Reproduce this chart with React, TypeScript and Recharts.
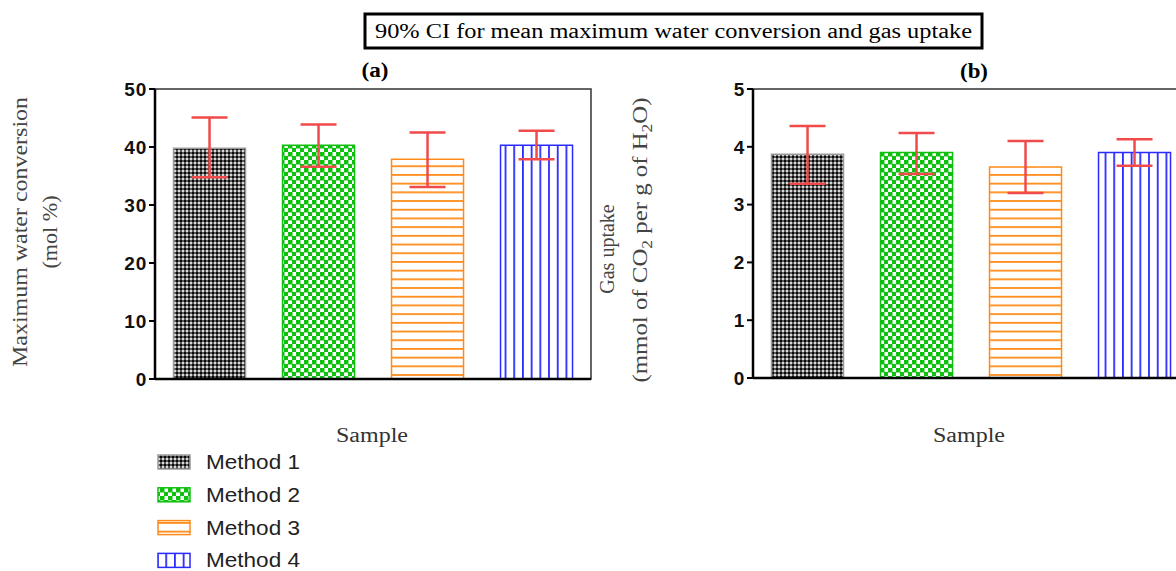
import { Bar, BarChart, Cell, ErrorBar, ReferenceArea, XAxis, YAxis } from "recharts";

const methods = ["Method 1", "Method 2", "Method 3", "Method 4"];

// (a) maximum water conversion, mol %
const conversionMean = [39.8, 40.3, 37.9, 40.3];
const conversionLow = [34.8, 36.6, 33.1, 37.9];
const conversionHigh = [45.1, 43.9, 42.5, 42.8];
const conversionTicks = [0, 10, 20, 30, 40, 50];

// (b) gas uptake, mmol CO2 per g H2O
const uptakeMean = [3.87, 3.9, 3.65, 3.9];
const uptakeLow = [3.36, 3.53, 3.2, 3.67];
const uptakeHigh = [4.36, 4.24, 4.1, 4.13];
const uptakeTicks = [0, 1, 2, 3, 4, 5];

const patternIds = ["pat-m1", "pat-m2", "pat-m3", "pat-m4"];
const edgeColors = ["#9a9a9a", "#10c010", "#ff8c1a", "#2a2aff"];

const toRows = (mean: number[], low: number[], high: number[]) =>
  methods.map((name, i) => ({
    name,
    value: mean[i],
    err: [mean[i] - low[i], high[i] - mean[i]],
  }));

const conversionData = toRows(conversionMean, conversionLow, conversionHigh);
const uptakeData = toRows(uptakeMean, uptakeLow, uptakeHigh);

const serif = "'Liberation Serif', 'Times New Roman', serif";
const sans = "'Liberation Sans', Arial, sans-serif";

function Patterns() {
  return (
    <svg width={0} height={0} style={{ position: "absolute" }}>
      <defs>
        <pattern id="pat-m1" width={4} height={4} patternUnits="userSpaceOnUse">
          <rect width={4} height={4} fill="#5a5a5a" />
          <rect x={0} y={0} width={2} height={2} fill="#0a0a0a" />
          <rect x={2} y={2} width={2} height={2} fill="#d8d8d8" />
        </pattern>
        <pattern id="pat-m2" width={8} height={8} patternUnits="userSpaceOnUse">
          <rect width={8} height={8} fill="#fff" />
          <rect x={0} y={0} width={4.5} height={4.5} fill="#10c010" />
          <rect x={4} y={4} width={4.5} height={4.5} fill="#10c010" />
        </pattern>
        <pattern id="pat-m3" width={8} height={8.7} patternUnits="userSpaceOnUse">
          <rect width={8} height={8.7} fill="#fff" />
          <rect x={0} y={0} width={8} height={1.8} fill="#ff8c1a" />
        </pattern>
        <pattern id="pat-m4" width={8.7} height={8} patternUnits="userSpaceOnUse">
          <rect width={8.7} height={8} fill="#fff" />
          <rect x={0} y={0} width={1.8} height={8} fill="#2a2aff" />
        </pattern>
      </defs>
    </svg>
  );
}

function Panel({
  data,
  ticks,
  yWidth,
  right,
  xHeight,
}: {
  data: { name: string; value: number; err: number[] }[];
  ticks: number[];
  yWidth: number;
  right: number;
  xHeight: number;
}) {
  const top = ticks[ticks.length - 1];
  return (
    <BarChart
      width={600}
      height={400}
      data={data}
      margin={{ top: 89, right, bottom: 0, left: 0 }}
      barCategoryGap="17%"
    >
      <ReferenceArea y1={0} y2={top} fill="none" stroke="#333" strokeWidth={1.5} ifOverflow="visible" />
      <XAxis
        dataKey="name"
        height={xHeight}
        tick={false}
        tickSize={7}
        axisLine={{ stroke: "#000", strokeWidth: 2.5 }}
        tickLine={{ stroke: "#000", strokeWidth: 2 }}
      />
      <YAxis
        width={yWidth}
        domain={[0, top]}
        ticks={ticks}
        tickSize={6}
        axisLine={{ stroke: "#000", strokeWidth: 2.5 }}
        tickLine={{ stroke: "#000", strokeWidth: 2 }}
        tick={{ fill: "#111", fontSize: 19, fontWeight: 700, fontFamily: sans, letterSpacing: 0.8 }}
      />
      <Bar dataKey="value" isAnimationActive={false} strokeWidth={1.5}>
        {data.map((d, i) => (
          <Cell key={d.name} fill={`url(#${patternIds[i]})`} stroke={edgeColors[i]} />
        ))}
        <ErrorBar dataKey="err" width={18} stroke="#f04a4a" strokeWidth={2.5} />
      </Bar>
    </BarChart>
  );
}

export default function App() {
  return (
    <div
      style={{
        position: "fixed",
        left: 0,
        top: 0,
        width: 1176,
        height: 571,
        overflow: "hidden",
        background: "#fff",
      }}
    >
      <Patterns />
      <div style={{ position: "absolute", left: 0, top: 0 }}>
        <Panel data={conversionData} ticks={conversionTicks} yWidth={155} right={9} xHeight={21} />
      </div>
      <div style={{ position: "absolute", left: 600, top: 0 }}>
        <Panel data={uptakeData} ticks={uptakeTicks} yWidth={153} right={11} xHeight={22} />
      </div>
      <svg width={1176} height={571} style={{ position: "absolute", left: 0, top: 0, pointerEvents: "none" }}>
        <rect x={365} y={14} width={617} height={34} fill="none" stroke="#000" strokeWidth={3} />
        <text x={375} y={38} fontFamily={serif} fontSize={20} fill="#000" textLength={597} lengthAdjust="spacingAndGlyphs">
          90% CI for mean maximum water conversion and gas uptake
        </text>
        <text x={375} y={77} textAnchor="middle" fontFamily={serif} fontSize={20} fontWeight={700} fill="#000" textLength={27} lengthAdjust="spacingAndGlyphs">
          (a)
        </text>
        <text x={974} y={78} textAnchor="middle" fontFamily={serif} fontSize={20} fontWeight={700} fill="#000" textLength={28} lengthAdjust="spacingAndGlyphs">
          (b)
        </text>

        <text transform="translate(27,232) rotate(-90)" textAnchor="middle" fontFamily={serif} fontSize={20} fill="#444" textLength={270} lengthAdjust="spacingAndGlyphs">
          Maximum water conversion
        </text>
        <text transform="translate(57,232) rotate(-90)" textAnchor="middle" fontFamily={serif} fontSize={20} fill="#444" textLength={73} lengthAdjust="spacingAndGlyphs">
          (mol %)
        </text>
        <text transform="translate(614,249) rotate(-90)" textAnchor="middle" fontFamily={serif} fontSize={20} fill="#444">
          Gas uptake
        </text>
        <text transform="translate(647,240) rotate(-90)" textAnchor="middle" fontFamily={serif} fontSize={20} fill="#444" textLength={285} lengthAdjust="spacingAndGlyphs">
          (mmol of CO<tspan fontSize={14} dy={5}>2</tspan>
          <tspan dy={-5}> per g of H</tspan>
          <tspan fontSize={14} dy={5}>2</tspan>
          <tspan dy={-5}>O)</tspan>
        </text>

        <text x={372} y={442} textAnchor="middle" fontFamily={serif} fontSize={20} fill="#333" textLength={72} lengthAdjust="spacingAndGlyphs">
          Sample
        </text>
        <text x={969} y={442} textAnchor="middle" fontFamily={serif} fontSize={20} fill="#333" textLength={72} lengthAdjust="spacingAndGlyphs">
          Sample
        </text>

        {methods.map((m, i) => {
          const y = 455 + i * 32.8;
          return (
            <g key={m}>
              <rect x={158} y={y} width={32} height={14} fill={`url(#${patternIds[i]})`} stroke={edgeColors[i]} strokeWidth={1.5} />
              <text x={206} y={y + 14} fontFamily={sans} fontSize={20} fill="#222" textLength={94} lengthAdjust="spacingAndGlyphs">
                {m}
              </text>
            </g>
          );
        })}
      </svg>
    </div>
  );
}
